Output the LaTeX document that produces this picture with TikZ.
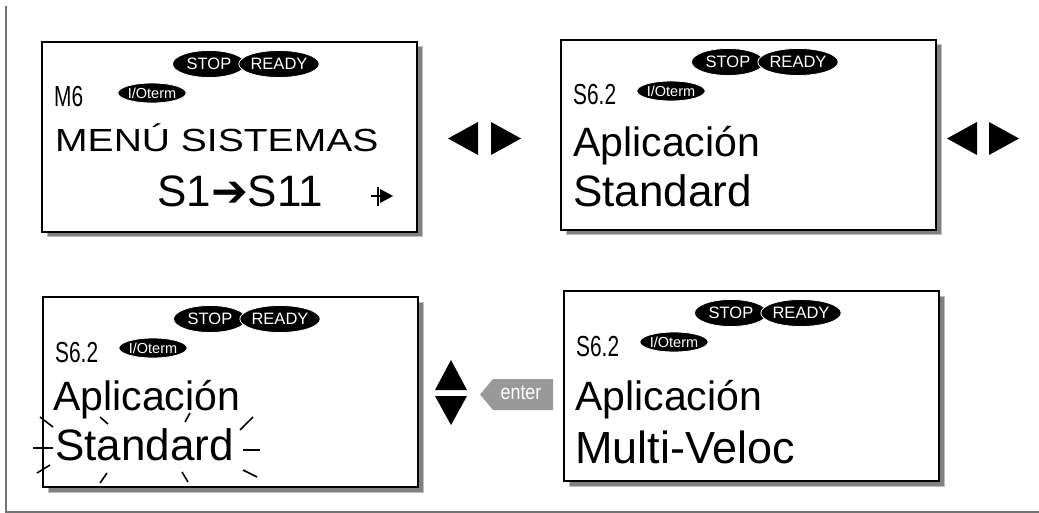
\documentclass[tikz,border=0pt]{standalone}
\usepackage{fontspec}
\setmainfont{Liberation Sans}
\newfontfamily\arrowfont{DejaVu Sans}
\newfontfamily\segfont[FakeStretch=0.72]{Liberation Sans}
\newfontfamily\narrowfont[FakeStretch=0.85]{Liberation Sans}
\usetikzlibrary{shapes.geometric,positioning}
\newcommand\BoxW{375}
\newcommand\BoxH{190}
\newcommand\Fs[1]{\fontsize{#1}{#1}\selectfont}
\tikzset{
  lcd/.style={
    draw,
    line width=2pt,
    fill=white,
    shape=rectangle,
    inner sep=0,
    minimum width=\BoxW pt,
    minimum height=\BoxH pt,
    anchor=north west
  },
  lcdshadow/.style={
    fill=black!50,
    draw=black!25,
    line width=1pt
  },
  pill/.style={
    shape=ellipse,
    fill=black,
    draw=white,
    line width=0.8pt,
    text=white,
    inner sep=0,
    minimum width=73pt,
    minimum height=27pt,
    font=\Fs{16.5}
  },
  pillsmall/.style={
    pill,
    minimum width=62pt,
    minimum height=20pt,
    font=\Fs{14.5}
  },
  segcode/.style={
    anchor=base west,
    inner sep=0,
    font=\segfont\Fs{29}
  },
  lcdtext/.style={
    anchor=base west,
    inner sep=0,
    font=\Fs{#1}
  },
  keytri/.style={
    fill=black
  },
  ray/.style={
    line width=1.6pt
  },
  frameline/.style={
    draw=black!55,
    line width=1.2pt
  }
}
% shadow, frame, status pills, code and I/O pill of one display
\newcommand\lcdpanel[4]{%
  \fill[lcdshadow] (#2+6,#3+6) rectangle ++(\BoxW,\BoxH);
  \node[lcd] (#1) at (#2,#3) {};
  \node[pill] (#1-stop) at ([shift={(168,23)}]#1.north west) {STOP};
  \node[pill] (#1-ready) at ([shift={(238,23)}]#1.north west) {READY};
  \node[segcode] (#1-code) at ([shift={(13,66)}]#1.north west) {#4};
  \node[pillsmall] (#1-io) at ([shift={(111,52)}]#1.north west) {I/Oterm};
}

\begin{document}
\begin{tikzpicture}[x=1pt,y=-1pt]
  \useasboundingbox (0,0) rectangle (1039,513);
  \draw[frameline] (6,6) -- (6,512) -- (1039,512);

  \lcdpanel{menu}{41}{41}{M6}
  \lcdpanel{appl}{560}{39}{S6.2}
  \lcdpanel{edit}{42}{296}{S6.2}
  \lcdpanel{sel}{563}{290}{S6.2}

  % texts
  \node[lcdtext=32] (menu-l1) at ([shift={(14,111)}]menu.north west) {\scalebox{1.22}[1]{MENÚ SISTEMAS}};
  \node[lcdtext=44] (menu-l2) at ([shift={(116,166)}]menu.north west) {S1{\arrowfont ➔}S11};
  \node[lcdtext=41] (appl-l1) at ([shift={(13,118)}]appl.north west) {Aplicación};
  \node[lcdtext=44] (appl-l2) at ([shift={(13,168)}]appl.north west) {Standard};
  \node[lcdtext=41] (edit-l1) at ([shift={(11,114)}]edit.north west) {Aplicación};
  \node[lcdtext=44] (edit-l2) at ([shift={(13,164)}]edit.north west) {Standard};
  \node[lcdtext=41] (sel-l1) at ([shift={(12,120)}]sel.north west) {Aplicación};
  \node[lcdtext=45] (sel-l2) at ([shift={(12,173)}]sel.north west) {Multi-Veloc};

  % small scroll arrow
  \fill (380,189) -- (393,196) -- (380,203) -- cycle;
  \draw[line width=1.6pt] (371,196) -- (382,196);
  \draw[line width=1.2pt] (378,187) -- (378,206);

  % blinking rays
  \foreach \a/\b/\c/\d in {33/448/53/448, 40/417/53/427, 37/473/50/465,
      100/417/108/424, 185/422/190/413, 240/430/253/417,
      243/450/260/450, 243/470/257/477, 100/483/107/473, 182/472/188/482}
    \draw[ray] (\a,\b) -- (\c,\d);

  % keys
  \fill[keytri] (478,122) -- (478,155) -- (448,138.5) -- cycle;
  \fill[keytri] (491,122) -- (491,155) -- (521,138.5) -- cycle;
  \fill[keytri] (977,122) -- (977,155) -- (947,138.5) -- cycle;
  \fill[keytri] (989,122) -- (989,155) -- (1019,138.5) -- cycle;
  \fill[keytri] (435,390) -- (451,360) -- (467,390) -- cycle;
  \fill[keytri] (435,396) -- (467,396) -- (451,425) -- cycle;

  \fill[black!40] (480,394.5) -- (493,379) -- (553,379) -- (553,410) -- (493,410) -- cycle;
  \node[text=white, font=\narrowfont\Fs{21}, inner sep=0] (enter) at (521,393) {enter};
\end{tikzpicture}
\end{document}
